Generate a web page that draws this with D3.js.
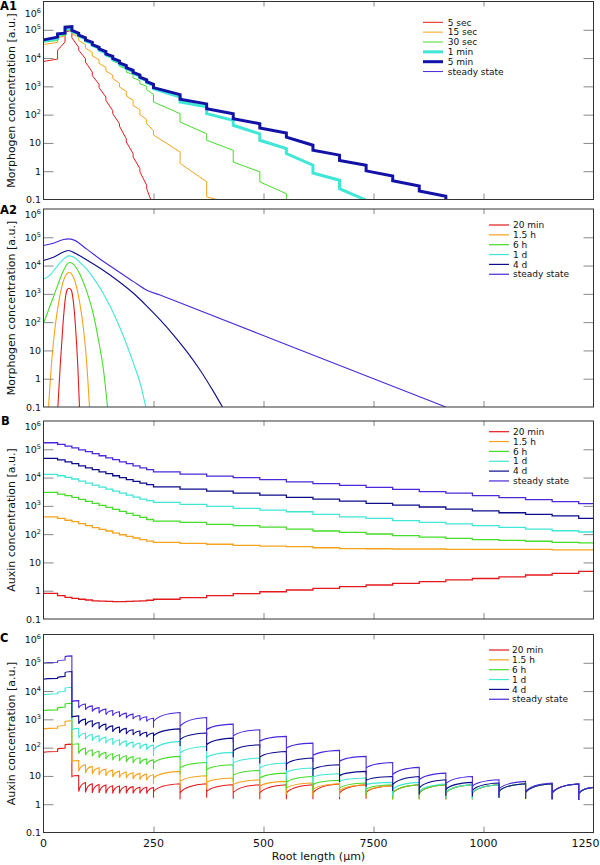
<!DOCTYPE html>
<html lang="en">
<head>
<meta charset="UTF-8">
<title>Morphogen and auxin profiles along the root</title>
<script src="https://d3js.org/d3.v7.min.js"></script>
<style>
  body { margin: 0; background: #fff; font-family: "DejaVu Sans", sans-serif; }
  svg { display: block; }
  .frame { fill: none; stroke: #333; stroke-width: 1; }
  .ticks line { stroke: #888; stroke-width: 1; }
  .series { fill: none; stroke-linejoin: miter; }
</style>
</head>
<body>
<svg id="chart" width="600" height="865"></svg>
<script>
// cell walls along the root, in µm (root cap, meristem, elongation zone)
const cellEdges = [0, 32, 49, 64.5, 80, 95.4, 110.9, 126.3, 141.8, 157.3, 172.7, 188.2, 203.6, 219.1, 234.5,
  250, 310.4, 370.8, 431.2, 491.6, 552, 612.4, 672.8, 733.2, 793.6, 854, 914.4, 974.8, 1035.2, 1095.6, 1156, 1216.4, 1250];
const firstLongCell = 15;

const xTicks = [0, 250, 500, 750, 1000, 1250];
const xTickLabels = ['0', '250', '500', '7500', '1000', '1250'];
const yTicks = [0.1, 1, 10, 1e2, 1e3, 1e4, 1e5, 1e6];
const yTickLabels = ['0.1', '1', '10', '10^2', '10^3', '10^4', '10^5', '10^6'];

const namesA1 = ['5 sec', '15 sec', '30 sec', '1 min', '5 min', 'steady state'];
const namesLate = ['20 min', '1.5 h', '6 h', '1 d', '4 d', 'steady state'];
const colors = ['#e31a1c', '#f7a21b', '#46dc2a', '#40e6d6', '#0c0c8c', '#4b28dc'];
const colorsA1 = ['#e31a1c', '#f7a21b', '#46dc2a', '#40e6d6', '#1212a6', '#4b28dc'];

// A1: per cell [value at left wall, value at right wall]
const a1Sec5 = [[7.6e3, 9.2e3], [1.9e4, 3.7e4], [8.3e4, 9.5e4], [5.2e4, 2.4e4], [1.9e4, 9.5e3], [7.2e3, 3.2e3],
  [2.4e3, 1.18e3], [900, 420], [320, 140], [108, 48], [39, 14], [10.8, 4.2], [3.2, 1.24], [0.95, 0.32], [0.24, 0.055]];
const a1Sec15 = [[3.0e4, 3.6e4], [5.2e4, 6.1e4], [9.0e4, 1.0e5], [7.2e4, 5.5e4], [4.2e4, 3.0e4], [2.25e4, 1.6e4],
  [1.2e4, 8.7e3], [6.5e3, 4.7e3], [3.5e3, 2.5e3], [1.9e3, 1.3e3], [950, 670], [460, 320], [210, 150], [100, 68],
  [48, 27], [19, 4.8], [1.9, 0.42], [0.124, 0.07]];
const a1Sec30 = [[3.7e4, 4.2e4], [5.8e4, 6.5e4], [9.5e4, 1.0e5], [8.3e4, 6.7e4], [5.8e4, 4.7e4], [4.0e4, 3.2e4],
  [2.7e4, 2.2e4], [1.8e4, 1.46e4], [1.2e4, 9.7e3], [7.8e3, 6.3e3], [5.1e3, 4.1e3], [3.2e3, 2.6e3], [2.0e3, 1.6e3],
  [1.24e3, 1.0e3], [760, 520], [280, 108], [55, 21], [12.4, 5.5], [2.1, 0.95], [0.42, 0.16], [0.05, 0.04]];
const a1Min1 = [[4.0e4, 4.8e4], [6.6e4, 7.2e4], [1.08e5, 1.15e5], [8.7e4, 7.0e4], [6.0e4, 4.8e4], [4.0e4, 3.3e4],
  [2.8e4, 2.25e4], [1.9e4, 1.54e4], [1.31e4, 1.05e4], [9.0e3, 7.2e3], [6.1e3, 4.9e3], [4.2e3, 3.4e3], [2.9e3, 2.3e3],
  [2.0e3, 1.58e3], [1.35e3, 1.08e3], [830, 420], [280, 190], [108, 63], [42, 21], [12.4, 6.3], [4.2, 1.63],
  [0.86, 0.48], [0.24, 0.095], [0.04, 0.04]];
const a1Min5 = [[4.4e4, 5.5e4], [7.2e4, 7.6e4], [1.24e5, 1.3e5], [9.5e4, 7.6e4], [6.5e4, 5.2e4], [4.4e4, 3.6e4],
  [3.0e4, 2.4e4], [2.1e4, 1.7e4], [1.4e4, 1.15e4], [9.7e3, 7.8e3], [6.7e3, 5.4e3], [4.6e3, 3.7e3], [3.1e3, 2.5e3],
  [2.1e3, 1.7e3], [1.46e3, 1.18e3], [900, 510], [350, 240], [163, 108], [72, 48], [34, 22.5], [16, 8.3],
  [5.5, 3.7], [2.4, 1.63], [1.03, 0.68], [0.46, 0.30], [0.20, 0.13], [0.06, 0.04]];
const a1Steady = a1Min5; // lies under the 5 min curve

// A2: [position µm, concentration]
const a2Min20 = [[32.6, 0.1], [37.9, 2.7], [43.9, 70], [49.2, 610], [53.8, 1380], [58.3, 1580], [62.9, 1380],
  [67.4, 610], [72.7, 70], [78, 2.7], [81.8, 0.1]];
const a2H1_5 = [[11.4, 0.1], [18.9, 4.6], [26.5, 70], [34.1, 460], [41.7, 1800], [49.2, 4100], [58.3, 5700],
  [67.4, 4100], [75, 1800], [82.6, 460], [90.2, 70], [97.7, 4.6], [104.5, 0.1]];
const a2H6 = [[0, 91], [11.4, 270], [22.7, 800], [34.1, 2400], [45.5, 6700], [58.3, 12800], [69.7, 10600],
  [83.3, 4700], [98.5, 1200], [113.6, 180], [125, 23], [136.4, 2.0], [145.5, 0.1]];
const a2D1 = [[0, 3300], [15.2, 4700], [30.3, 9200], [45.5, 16800], [56.8, 22000], [68.2, 20000], [83.3, 12800],
  [98.5, 7400], [113.6, 3600], [128.8, 1580], [143.9, 610], [159.1, 206], [174.2, 61], [189.4, 15.6],
  [204.5, 3.5], [219.7, 0.69], [232.6, 0.1]];
const a2D4 = [[0, 15000], [22.7, 19700], [45.5, 30000], [56.8, 34000], [72, 27000], [98.5, 15800], [128.8, 8000],
  [166.7, 3100], [204.5, 1050], [234.8, 370], [265.2, 120], [295.5, 35], [325.8, 9.1], [356.1, 2.0],
  [386.4, 0.35], [406.8, 0.1]];
const a2Steady = [[0, 51000], [22.7, 62000], [45.5, 83000], [56.8, 88000], [68.2, 81000], [98.5, 38000],
  [128.8, 16800], [166.7, 6700], [204.5, 2700], [234.8, 1350], [265, 910], [295.5, 590], [583.3, 10.4], [914.4, 0.1]];

// B: one level per cell
const bMin20 = [0.81, 0.67, 0.58, 0.54, 0.50, 0.47, 0.44, 0.43, 0.42, 0.41, 0.41, 0.42, 0.43, 0.44, 0.46,
  0.50, 0.57, 0.67, 0.79, 0.92, 1.06, 1.21, 1.39, 1.59, 1.82, 2.1, 2.4, 2.7, 3.1, 3.6, 4.1, 4.8];
const bH1_5 = [410, 360, 310, 275, 234, 200, 169, 148, 129, 109, 95, 83, 73, 64, 57,
  51, 47, 44, 40, 38, 36, 33, 31, 30.5, 29.8, 29.8, 29, 29, 29, 29, 28, 28];
const bH6 = [3.0e3, 2.6e3, 2.3e3, 2.0e3, 1.69e3, 1.44e3, 1.22e3, 1.04e3, 880, 750, 640, 540, 460, 390, 330,
  290, 260, 220, 200, 178, 151, 129, 116, 101, 88, 79, 71, 64, 60, 56, 51, 49];
const bD1 = [1.29e4, 1.16e4, 1.01e4, 8.9e3, 7.5e3, 6.4e3, 5.4e3, 4.6e3, 3.9e3, 3.3e3, 2.8e3, 2.4e3, 2.05e3, 1.74e3, 1.52e3,
  1.33e3, 1.13e3, 960, 810, 710, 620, 500, 410, 360, 300, 260, 230, 200, 173, 151, 132, 119];
const bD4 = [4.75e4, 4.2e4, 3.6e4, 3.1e4, 2.6e4, 2.2e4, 1.9e4, 1.6e4, 1.37e4, 1.16e4, 9.9e3, 8.4e3, 7.3e3, 6.4e3, 5.6e3,
  4.7e3, 3.9e3, 3.3e3, 2.8e3, 2.4e3, 2.0e3, 1.74e3, 1.48e3, 1.22e3, 1.07e3, 910, 770, 660, 570, 500, 440, 360];
const bSteady = [1.7e5, 1.49e5, 1.3e5, 1.13e5, 9.6e4, 8.2e4, 7.0e4, 5.9e4, 5.0e4, 4.3e4, 3.6e4, 3.1e4, 2.6e4, 2.2e4, 1.9e4,
  1.6e4, 1.33e4, 1.13e4, 9.9e3, 8.4e3, 7.1e3, 6.1e3, 5.3e3, 4.5e3, 3.8e3, 3.2e3, 2.8e3, 2.3e3, 1.94e3, 1.65e3, 1.4e3, 1.19e3];

// C: per cell [value after the wall, value before the next wall]
const cMin20 = [[68, 73], [89, 96], [126, 133], [9.6, 10.4], [2.8, 5.9], [2.6, 5.3], [2.5, 5.0], [2.5, 4.8], [2.4, 4.5],
  [2.4, 4.4], [2.4, 4.3], [2.4, 4.2], [2.4, 4.0], [2.4, 4.0], [2.35, 3.9], [2.8, 5.3], [2.5, 5.3], [2.8, 4.9],
  [2.6, 4.9], [2.5, 4.9], [2.5, 4.9], [2.5, 5.2], [2.5, 4.9], [2.6, 4.5], [2.5, 4.9], [2.5, 4.9], [2.5, 4.9],
  [2.5, 4.9], [2.8, 5.3], [2.6, 5.3], [2.5, 5.2], [2.35, 3.9]];
const cH1_5 = [[460, 490], [560, 610], [840, 890], [32.6, 35], [14.5, 24.8], [12.6, 21.7], [11.6, 19.5], [10.7, 17.5],
  [9.9, 16.1], [9.1, 14.8], [8.6, 13.7], [8.2, 13], [7.7, 12.3], [7.3, 11.6], [7.0, 11], [8.4, 14.5], [6.4, 10.2],
  [5.9, 8.4], [4.9, 7.3], [4.3, 6.4], [3.7, 5.6], [3.3, 5.3], [3.0, 4.9], [2.8, 4.5], [2.5, 4.9], [2.5, 4.9],
  [2.5, 4.9], [2.5, 4.9], [2.8, 5.3], [2.6, 5.3], [2.5, 5.2], [2.35, 3.9]];
const cH6 = [[2.06e3, 2.17e3], [2.5e3, 2.7e3], [3.5e3, 3.7e3], [126, 137], [61, 96], [54, 84], [49, 75], [44, 68],
  [39, 61], [36, 56], [33.5, 52], [30.8, 48], [28.5, 44], [26.2, 40], [24.8, 37], [28.5, 49], [19, 30], [16.6, 24.8],
  [10.4, 15.7], [8.4, 12.6], [5.9, 9.6], [4.9, 7.0], [3.7, 5.6], [3.4, 4.9], [2.5, 4.9], [2.5, 4.9], [2.5, 4.9],
  [2.5, 4.9], [2.8, 5.3], [2.6, 5.3], [2.5, 5.2], [2.35, 3.9]];
const cD1 = [[7.3e3, 8.0e3], [8.9e3, 9.6e3], [1.26e4, 1.37e4], [430, 480], [217, 330], [195, 290], [175, 260],
  [157, 235], [141, 211], [126, 190], [116, 170], [107, 157], [99, 145], [91, 133], [84, 123], [84, 166], [64, 110],
  [45, 68], [28.5, 43], [19, 28.5], [13.3, 19], [9.1, 12], [6.4, 8.4], [4.9, 5.9], [3.3, 5.9], [2.8, 5.2],
  [2.7, 4.9], [2.6, 4.9], [2.8, 5.3], [2.6, 5.3], [2.5, 5.2], [2.35, 3.9]];
const cD4 = [[2.6e4, 2.8e4], [3.0e4, 3.3e4], [4.5e4, 4.9e4], [1.2e3, 1.33e3], [700, 1.02e3], [610, 890], [530, 770],
  [460, 680], [400, 590], [360, 530], [330, 480], [300, 430], [280, 390], [255, 350], [235, 330], [260, 460],
  [190, 330], [126, 217], [77, 126], [46, 73], [26.2, 43], [16.6, 24.8], [10.2, 14.5], [7.0, 9.6], [4.9, 9.6],
  [3.7, 7.3], [3.3, 5.9], [3.1, 5.6], [2.8, 5.3], [2.6, 5.3], [2.5, 5.2], [2.35, 3.9]];
const cSteady = [[9.6e4, 1.04e5], [1.16e5, 1.26e5], [1.65e5, 1.75e5], [4.3e3, 4.6e3], [2.5e3, 3.5e3], [2.17e3, 3.0e3],
  [1.9e3, 2.6e3], [1.66e3, 2.3e3], [1.45e3, 2.06e3], [1.33e3, 1.85e3], [1.2e3, 1.66e3], [1.1e3, 1.53e3],
  [1.02e3, 1.37e3], [910, 1.23e3], [840, 1.1e3], [840, 1.75e3], [560, 1.16e3], [430, 680], [260, 430], [166, 250],
  [96, 145], [52, 80], [32.6, 49], [19, 30], [11, 20], [7.3, 12.6], [5.3, 9.6], [4.3, 7.3], [3.4, 6.4], [2.8, 5.6],
  [2.5, 5.3], [2.35, 4.0]];
const cWallRatio = 0.6; // wall dip below the next cell's start, elongation zone

const svg = d3.select('#chart');
const x = d3.scaleLinear().domain([0, 1250]).range([43.5, 593.5]);
const panelH = 198;

const panels = [
  { tag: 'A1', top: 1.5, tagX: 0, tagY: 9.5, topLabelY: 16.5, title: 'Morphogen concentration [a.u.]',
    names: namesA1, palette: colorsA1, legend: [423, 22.3, 447.7], kind: 'stair',
    series: [a1Sec5, a1Sec15, a1Sec30, a1Min1, a1Min5, a1Steady], widths: [1, 1, 1, 3, 3, 1], order: [5, 0, 1, 2, 3, 4] },
  { tag: 'A2', top: 209, tagX: 0, tagY: 214, topLabelY: 217.5, title: 'Morphogen concentration [a.u.]',
    names: namesLate, palette: colors, legend: [489, 225, 513], kind: 'smooth',
    series: [a2Min20, a2H1_5, a2H6, a2D1, a2D4, a2Steady], widths: [1.1, 1.1, 1.1, 1.1, 1.1, 1.1], order: [5, 4, 3, 2, 1, 0] },
  { tag: 'B', top: 421, tagX: 1, tagY: 424.5, topLabelY: 429.5, title: 'Auxin concentration [a.u.]',
    names: namesLate, palette: colors, legend: [489, 431.7, 513], kind: 'flat',
    series: [bMin20, bH1_5, bH6, bD1, bD4, bSteady], widths: [1.3, 1.3, 1.3, 1.3, 1.3, 1.3], order: [5, 4, 3, 2, 1, 0] },
  { tag: 'C', top: 634.5, tagX: 0, tagY: 642, topLabelY: 643, title: 'Auxin concentration [a.u.]',
    names: namesLate, palette: colors, legend: [489, 650, 512], kind: 'saw',
    series: [cMin20, cH1_5, cH6, cD1, cD4, cSteady], widths: [1.1, 1.1, 1.1, 1.1, 1.1, 1.1], order: [0, 1, 2, 3, 4, 5] }
];

function stairPath(cells, y) {
  const pts = [];
  cells.forEach((c, i) => { pts.push([cellEdges[i], c[0]], [cellEdges[i + 1], c[1]]); });
  return d3.line().x(d => x(d[0])).y(d => y(d[1]))(pts);
}

function flatPath(levels, y) {
  const pts = [];
  levels.forEach((v, i) => { pts.push([cellEdges[i], v], [cellEdges[i + 1], v]); });
  return d3.line().x(d => x(d[0])).y(d => y(d[1]))(pts);
}

function smoothPath(points, y) {
  return d3.line().curve(d3.curveMonotoneX).x(d => x(d[0])).y(d => y(d[1]))(points);
}

// rises fast after each wall, then levels off toward the next wall
function sawPath(cells, y) {
  const p = d3.path();
  cells.forEach((c, i) => {
    const x0 = x(cellEdges[i]), x1 = x(cellEdges[i + 1]);
    const y0 = y(c[0]), y1 = y(c[1]);
    if (i === 0) p.moveTo(x0, y0);
    else {
      if (i >= firstLongCell) p.lineTo(x0, y(c[0] * cWallRatio));
      p.lineTo(x0, y0);
    }
    p.quadraticCurveTo(x0 + 0.2 * (x1 - x0), y0 + 0.85 * (y1 - y0), x1, y1);
  });
  return p.toString();
}

const builders = { stair: stairPath, flat: flatPath, smooth: smoothPath, saw: sawPath };

panels.forEach((p, pi) => {
  const y = d3.scaleLog().domain([0.1, 1e6]).range([p.top + panelH, p.top]);
  const g = svg.append('g');

  svg.append('clipPath').attr('id', 'clip' + pi)
    .append('rect').attr('x', x(0)).attr('y', p.top).attr('width', x(1250) - x(0)).attr('height', panelH);

  const lines = g.append('g').attr('clip-path', `url(#clip${pi})`);
  p.order.forEach(k => {
    lines.append('path').attr('class', 'series')
      .attr('d', builders[p.kind](p.series[k], y))
      .attr('stroke', p.palette[k])
      .attr('stroke-width', p.widths[k]);
  });

  // inward ticks on all four sides
  const inner = yTicks.slice(1, -1);
  const tickGroups = [
    g.append('g').attr('transform', `translate(${x(0)},0)`).call(d3.axisRight(y).tickValues(inner).tickSize(10).tickFormat('')),
    g.append('g').attr('transform', `translate(${x(1250)},0)`).call(d3.axisLeft(y).tickValues(inner).tickSize(10).tickFormat('')),
    g.append('g').attr('transform', `translate(0,${p.top})`).call(d3.axisBottom(x).tickValues(xTicks.slice(1, -1)).tickSize(5).tickFormat('')),
    g.append('g').attr('transform', `translate(0,${p.top + panelH})`).call(d3.axisTop(x).tickValues(xTicks.slice(1, -1)).tickSize(6).tickFormat(''))
  ];
  tickGroups.forEach(t => {
    t.attr('class', 'ticks');
    t.select('.domain').remove();
    t.selectAll('line').attr('stroke', '#888');
  });

  g.append('rect').attr('class', 'frame')
    .attr('x', x(0)).attr('y', p.top).attr('width', x(1250) - x(0)).attr('height', panelH);

  // y tick labels with superscript exponents
  yTicks.forEach((v, k) => {
    const parts = yTickLabels[k].split('^');
    const ty = k === yTicks.length - 1 ? p.topLabelY : y(v) + 3.5;
    const t = g.append('text').attr('x', 41).attr('y', ty).attr('text-anchor', 'end')
      .attr('font-size', 9.5).attr('fill', '#111');
    t.append('tspan').text(parts[0]);
    if (parts[1]) t.append('tspan').attr('font-size', 6.5).attr('dy', -4).text(parts[1]);
  });

  g.append('text')
    .attr('transform', `translate(14.5,${p.top + panelH / 2}) rotate(-90)`)
    .attr('text-anchor', 'middle').attr('font-size', 11).attr('fill', '#111')
    .text(p.title);

  g.append('text').attr('x', p.tagX).attr('y', p.tagY)
    .attr('font-size', 11.5).attr('font-weight', 'bold').attr('fill', '#000')
    .text(p.tag);

  // legend
  const lg = g.append('g');
  p.names.forEach((name, k) => {
    const ry = p.legend[1] + k * 9.85;
    lg.append('line').attr('x1', p.legend[0]).attr('x2', p.legend[0] + 20)
      .attr('y1', ry).attr('y2', ry)
      .attr('stroke', p.palette[k]).attr('stroke-width', p.kind === 'stair' ? p.widths[k] : 1.2);
    lg.append('text').attr('x', p.legend[2]).attr('y', ry + 3.2)
      .attr('font-size', 9).attr('fill', '#111').text(name);
  });

  if (pi === panels.length - 1) {
    xTicks.forEach((v, k) => {
      const last = k === xTicks.length - 1;
      g.append('text').attr('x', last ? 599.5 : x(v)).attr('y', 847)
        .attr('text-anchor', last ? 'end' : 'middle').attr('font-size', 11).attr('fill', '#111')
        .text(xTickLabels[k]);
    });
    g.append('text').attr('x', (x(0) + x(1250)) / 2).attr('y', 859.5)
      .attr('text-anchor', 'middle').attr('font-size', 11).attr('fill', '#111')
      .text('Root length (μm)');
  }
});
</script>
</body>
</html>
